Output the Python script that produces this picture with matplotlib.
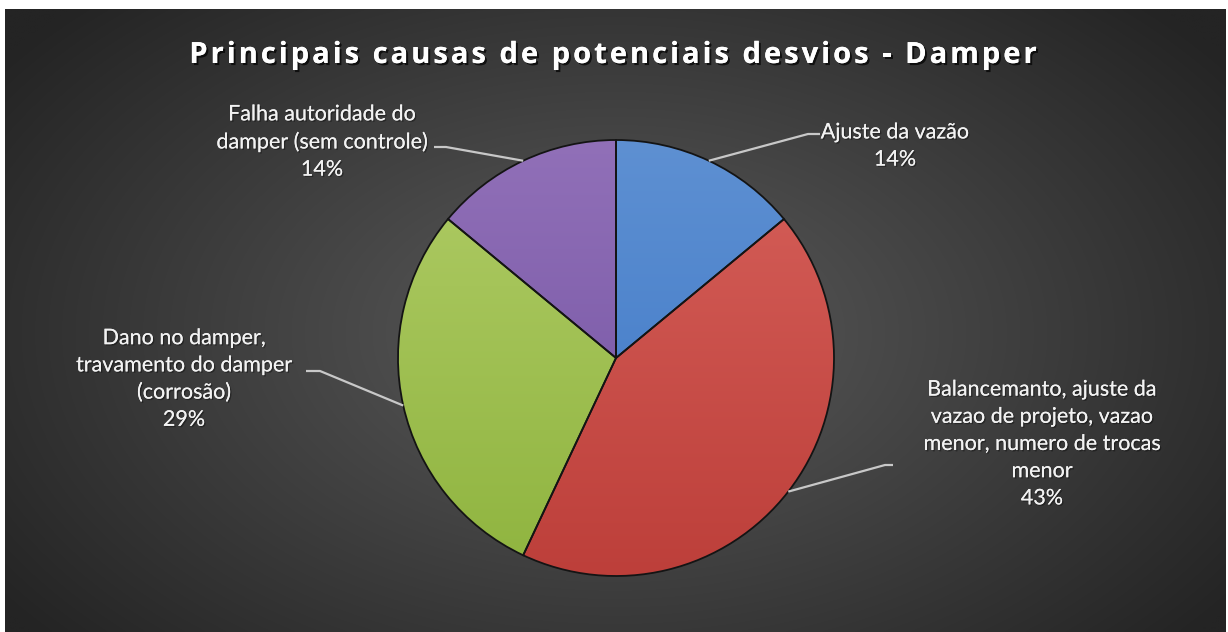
import numpy as np
import matplotlib
matplotlib.use("Agg")
import matplotlib.pyplot as plt
import matplotlib.patheffects as pe
from matplotlib.font_manager import FontProperties, findfont, get_font

W, H = 1228, 632

title = "Principais causas de potenciais desvios - Damper"
causes = [
    "Ajuste da vazão",
    "Balancemanto, ajuste da\nvazao de projeto, vazao\nmenor, numero de trocas\nmenor",
    "Dano no damper,\ntravamento do damper\n(corrosão)",
    "Falha autoridade do\ndamper (sem controle)",
]
shares = [14, 43, 29, 14]

# top / bottom tone of each slice (vertical gradient)
tones = [
    ("#5e90d2", "#3b76c6"),
    ("#d6605a", "#bd3f3a"),
    ("#b0cc66", "#8fb43f"),
    ("#9170b8", "#7050a0"),
]

# label block centre (px, from top-left) and elbow of the leader line
label_pos = [(895, 146), (1042, 444), (184, 379), (322, 142)]
elbows = [((808, 134), (820, 134)),
          ((885, 465), (893, 465)),
          ((320, 371), (306, 371)),
          ((446, 147), (434, 147))]

cx, cy, R = 616, 358, 218

fig = plt.figure(figsize=(W / 100, H / 100), dpi=100, facecolor="white")

# dark radial background panel
bg = fig.add_axes([5 / W, 0, (W - 7) / W, (H - 9) / H])
bg.set_axis_off()
yy, xx = np.mgrid[0:1:300j, 0:1:600j]
r = np.sqrt(((xx - 0.5) / 0.62) ** 2 + ((yy - 0.52) / 0.75) ** 2)
r = np.clip(r, 0, 1)
c0 = np.array([0x5c, 0x5c, 0x5c]) / 255
c1 = np.array([0x24, 0x24, 0x24]) / 255
img = c0[None, None, :] * (1 - r[..., None]) + c1[None, None, :] * r[..., None]
bg.imshow(img, extent=[0, 1, 0, 1], aspect="auto", interpolation="bilinear")
bg.set_xlim(0, 1)
bg.set_ylim(0, 1)

ax = fig.add_axes([0, 0, 1, 1])
ax.set_axis_off()
ax.patch.set_alpha(0)

wedges, _ = ax.pie(shares, startangle=90, counterclock=False,
                   center=(cx, H - cy), radius=R, colors=["none"] * 4,
                   wedgeprops=dict(edgecolor="#141414", linewidth=1.3, zorder=4))
ax.set_xlim(0, W)
ax.set_ylim(0, H)
ax.set_aspect("auto")

grad = np.linspace(0, 1, 256)[:, None]
for w, (top, bot) in zip(wedges, tones):
    ct = np.array(matplotlib.colors.to_rgb(top))
    cb = np.array(matplotlib.colors.to_rgb(bot))
    g = ct[None, None, :] * (1 - grad[..., None]) + cb[None, None, :] * grad[..., None]
    g = np.repeat(g, 4, axis=1)
    im = ax.imshow(g, extent=[cx - R, cx + R, H - cy - R, H - cy + R],
                   aspect="auto", zorder=3, interpolation="bilinear")
    im.set_clip_path(w)

soft = [pe.withSimplePatchShadow(offset=(1, -1), shadow_rgbFace="black", alpha=0.35),
        pe.Normal()]

for w, name, pct, (lx, ly), (e1, e2) in zip(wedges, causes, shares, label_pos, elbows):
    mid = np.deg2rad((w.theta1 + w.theta2) / 2)
    px = cx + R * np.cos(mid)
    py = (H - cy) + R * np.sin(mid)
    ax.plot([px, e1[0], e2[0]], [py, H - e1[1], H - e2[1]],
            color="#c8c8c8", lw=1.6, zorder=5, solid_capstyle="butt")
    ax.text(lx, H - ly, f"{name}\n{pct}%", ha="center", va="center",
            fontsize=15.5, family="Lato", color="#f2f2f2",
            linespacing=1.45, zorder=6, path_effects=soft)

# title with extra letter spacing, one glyph at a time
tsize = 21
tprop = FontProperties(family="Open Sans", weight="bold", size=tsize)
ft = get_font(findfont(tprop))
ft.set_size(tsize, 100)
track = 3.0
adv = [ft.load_char(ord(ch)).linearHoriAdvance / 65536 + track for ch in title]
total = sum(adv) - track
x = 613 - total / 2
shadow = [pe.withSimplePatchShadow(offset=(1.5, -1.5), shadow_rgbFace="black", alpha=0.7),
          pe.Normal()]
for ch, a in zip(title, adv):
    ax.text(x, H - 63, ch, ha="left", va="baseline", fontproperties=tprop,
            color="white", zorder=6, path_effects=shadow)
    x += a

fig.savefig("out.png", dpi=100, facecolor=fig.get_facecolor())
